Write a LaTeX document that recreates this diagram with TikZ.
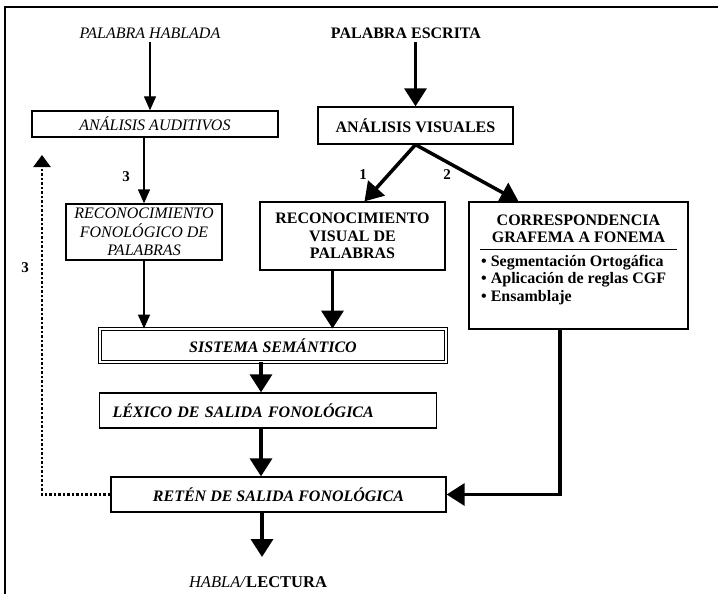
\documentclass[tikz,border=0pt]{standalone}
\usepackage{fontspec}
\setmainfont{Liberation Serif}
\usetikzlibrary{arrows.meta}

\begin{document}
\begin{tikzpicture}[x=1pt,y=-1pt,
        caja/.style={draw, line width=1.3pt, inner sep=0pt, align=center},
        it/.style={font=\fontsize{16}{18.5}\selectfont\itshape, align=center},
        bf/.style={font=\fontsize{16}{17.5}\selectfont\bfseries, align=center},
        bi/.style={font=\fontsize{16}{18}\selectfont\bfseries\itshape},
        num/.style={font=\fontsize{15}{17}\selectfont\bfseries},
        fina/.style={line width=1.3pt, -{Triangle[length=14pt,width=12pt]}},
        gruesa/.style={line width=3.5pt, -{Triangle[length=18pt,width=22pt]}},
        puntos/.style={line width=2.4pt, dash pattern=on 2.5pt off 2pt, -{Triangle[length=12pt,width=17pt]}}] %1
            \useasboundingbox (0,0) rectangle (718,594);
            \draw[line width=2pt] (718,7) -- (5,7) -- (5,594);

            \coordinate (col) at (261,0);
            \coordinate (bajada) at (560,0);
            \coordinate (lazo) at (42,155);
            \coordinate (salida) at (262,557);

            \node[it] (hablada) at (150,33) {PALABRA HABLADA};
            \node[bf] (escrita) at (406,33) {PALABRA ESCRITA};

            \node[caja, it, minimum width=246, minimum height=26] (auditivo) at (155,124) {ANÁLISIS AUDITIVOS};
            \node[caja, bf, minimum width=195, minimum height=37] (visual) at (415.5,125.5) {ANÁLISIS VISUALES};
            \node[caja, it, minimum width=156, minimum height=56] (fonol) at (144,232) {RECONOCIMIENTO\\FONOLÓGICO DE\\PALABRAS};
            \node[caja, bf, minimum width=185, minimum height=68] (vispal) at (352.5,236) {RECONOCIMIENTO\\VISUAL DE\\PALABRAS};
            \node[caja, minimum width=219, minimum height=127] (cgf) at (578.5,265.5) {};
            \node[bf] (cgftit) at (578.5,229) {CORRESPONDENCIA\\GRAFEMA A FONEMA};
            \draw[line width=0.8pt] (480,249) -- (677,249);
            \node[font=\fontsize{16}{17.5}\selectfont\bfseries, align=left, anchor=north west, inner sep=0pt] (cgflist) at (481,255)
                {\textbullet\ Segmentación Ortogáfica\\\textbullet\ Aplicación de reglas CGF\\\textbullet\ Ensamblaje};

            \node[caja, bi, double, double distance=2pt, line width=0.8pt, minimum width=346, minimum height=33] (semant) at (273,345.5) {SISTEMA SEMÁNTICO};
            \node[caja, bi, text width=311, inner xsep=13, align=left, minimum height=35] (lexico) at (268,410.5) {LÉXICO DE SALIDA FONOLÓGICA};
            \node[caja, bi, minimum width=335, minimum height=35] (reten) at (278.5,494.5) {RETÉN DE SALIDA FONOLÓGICA};
            \node[font=\fontsize{16.5}{18}\selectfont] (habla) at (258,582) {\textit{HABLA/}\textbf{LECTURA}};

            % ruta auditiva
            \draw[fina] (hablada.south) -- (hablada.south |- auditivo.north);
            \draw[fina] (auditivo.south -| fonol.north) -- (fonol.north);
            \draw[fina] (fonol.south) -- (fonol.south |- semant.north);
            \node[num] (tres) at (126,177) {3};

            % ruta visual
            \draw[gruesa] (escrita.south -| visual.north) -- (visual.north);
            \draw[gruesa] (visual.south) -- ([xshift=12pt]vispal.north);
            \draw[gruesa] (visual.south) -- ([xshift=-60pt]cgf.north);
            \node[num] (uno) at (363,175) {1};
            \node[num] (dos) at (447,175) {2};
            \draw[gruesa] ([xshift=-20pt]vispal.south) -- ([xshift=-20pt]vispal.south |- semant.north);
            \draw[gruesa] (semant.south -| col) -- (lexico.north -| col);
            \draw[gruesa] (lexico.south -| col) -- (reten.north -| col);
            \draw[gruesa] (cgf.south -| bajada) |- (reten.east);
            \draw[gruesa] (reten.south -| salida) -- (salida);

            % repaso
            \draw[puntos] (reten.west) -| (lazo);
            \node[num] (tresb) at (25,268) {3};
\end{tikzpicture}
\end{document}
